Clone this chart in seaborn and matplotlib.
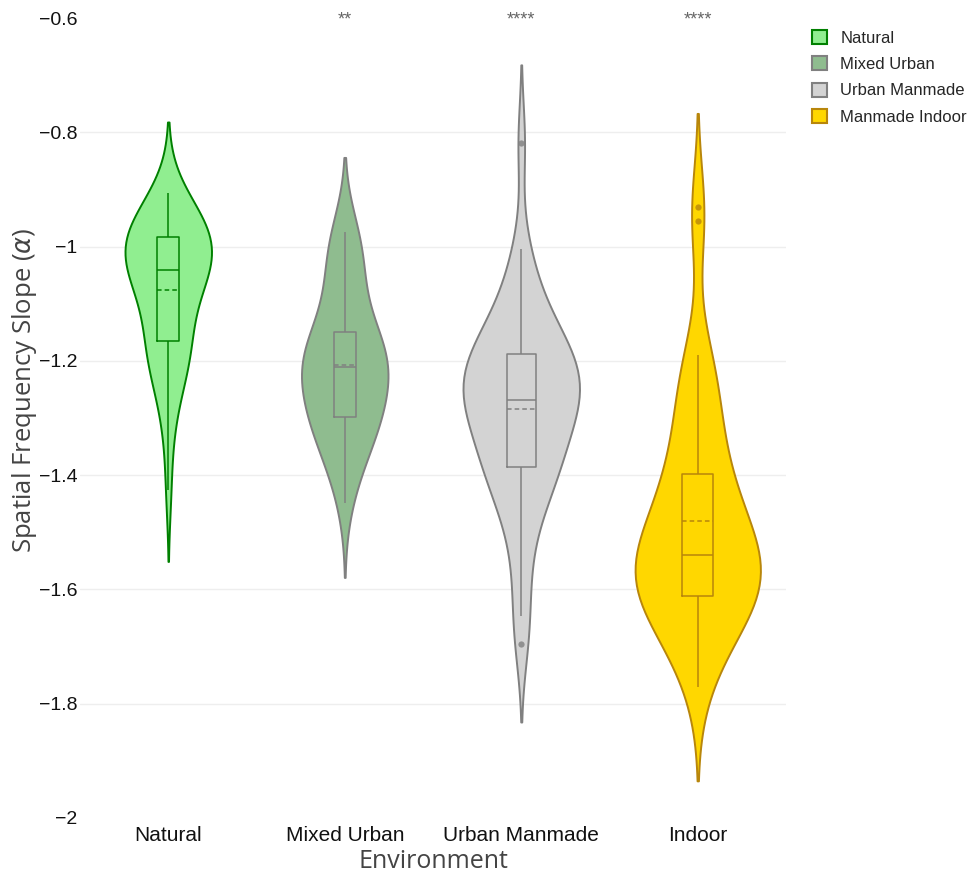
import numpy as np
import pandas as pd
import seaborn as sns
import matplotlib.pyplot as plt
from matplotlib.patches import Patch

# categories / labels
categories = ["Natural", "Mixed Urban", "Urban Manmade", "Indoor"]
legend_names = ["Natural", "Mixed Urban", "Urban Manmade", "Manmade Indoor"]
stars = ["", "**", "****", "****"]

natural = [-1.426, -1.33, -1.28, -1.25, -1.225, -1.21, -1.198, -1.188, -1.178, -1.17, -1.166,
           -1.15, -1.13, -1.11, -1.095, -1.08, -1.07, -1.06, -1.052, -1.046, -1.041,
           -1.036, -1.031, -1.026, -1.021, -1.015, -1.008, -1.002, -0.996, -0.99, -0.983,
           -0.979, -0.975, -0.971, -0.967, -0.962, -0.955, -0.946, -0.935, -0.922, -0.907]
mixed_urban = [-1.449, -1.41, -1.385, -1.365, -1.35, -1.337, -1.326, -1.317, -1.309, -1.303, -1.298,
               -1.29, -1.28, -1.27, -1.26, -1.25, -1.24, -1.23, -1.22, -1.215, -1.21,
               -1.205, -1.20, -1.195, -1.19, -1.185, -1.178, -1.17, -1.163, -1.156, -1.15,
               -1.12, -1.10, -1.08, -1.06, -1.04, -1.02, -1.005, -0.99, -0.982, -0.974]
urban_manmade = [-1.696, -1.647, -1.58, -1.52, -1.48, -1.45, -1.43, -1.41, -1.40, -1.39, -1.386,
                 -1.37, -1.35, -1.34, -1.33, -1.315, -1.30, -1.29, -1.28, -1.273, -1.268,
                 -1.262, -1.255, -1.248, -1.24, -1.232, -1.224, -1.215, -1.205, -1.195, -1.188,
                 -1.18, -1.17, -1.16, -1.15, -1.13, -1.11, -1.08, -1.05, -1.004, -0.818]
indoor = [-1.771, -1.735, -1.70, -1.68, -1.665, -1.65, -1.64, -1.63, -1.622, -1.616, -1.611,
          -1.60, -1.59, -1.58, -1.572, -1.565, -1.558, -1.552, -1.547, -1.543, -1.539,
          -1.525, -1.51, -1.50, -1.485, -1.47, -1.455, -1.44, -1.425, -1.41, -1.398,
          -1.37, -1.345, -1.32, -1.29, -1.26, -1.235, -1.21, -1.19, -0.955, -0.931]

fill_colors = ["#90EE90", "#8FBC8F", "#D3D3D3", "#FFD700"]
line_colors = ["#008000", "#808080", "#808080", "#B8860B"]
violin_widths = [0.49, 0.49, 0.66, 0.71]
bandwidths = [0.0625, 0.065, 0.068, 0.082]

df = pd.DataFrame({
    "Environment": np.repeat(categories, [len(natural), len(mixed_urban), len(urban_manmade), len(indoor)]),
    "slope": natural + mixed_urban + urban_manmade + indoor,
})

sns.set_style("white")
plt.rcParams["font.family"] = ["Liberation Sans", "DejaVu Sans"]

fig = plt.figure(figsize=(9.75, 8.75), dpi=100)
ax = fig.add_axes([80 / 975, 1 - 818 / 875, 706 / 975, 800 / 875])

for i, cat in enumerate(categories):
    sub = df[df["Environment"] == cat]
    bw = bandwidths[i] / sub["slope"].std()
    sns.violinplot(data=sub, x="Environment", y="slope", order=categories,
                   color=fill_colors[i], linecolor=line_colors[i], linewidth=1.4,
                   saturation=1, inner=None, density_norm="width",
                   width=violin_widths[i], bw_method=bw, cut=2, ax=ax)
    sns.boxplot(data=sub, x="Environment", y="slope", order=categories,
                color=line_colors[i], fill=False, width=violin_widths[i] * 0.25,
                linewidth=1.1, showcaps=False, whis=1.5,
                showmeans=True, meanline=True,
                meanprops=dict(color=line_colors[i], linestyle=(0, (3, 2)), linewidth=1.1),
                flierprops=dict(marker="o", markersize=4.5, markerfacecolor=line_colors[i],
                                markeredgecolor="none", alpha=0.8),
                ax=ax)

for i, s in enumerate(stars):
    ax.text(i, -0.603, s, ha="center", va="center", fontsize=13, color="#666666", clip_on=False)

ax.set_xlim(-0.5, 3.5)
ax.set_ylim(-2, -0.6)
yt = np.arange(-2.0, -0.59, 0.2)
ax.set_yticks(yt)
ax.set_yticklabels([("%g" % round(v, 1)).replace("-", "\u2212") for v in yt])
ax.tick_params(axis="y", length=0, pad=2, labelsize=14, labelcolor="#111111")
ax.tick_params(axis="x", length=0, pad=6, labelsize=15, labelcolor="#111111")
for sp in ax.spines.values():
    sp.set_visible(False)
ax.yaxis.grid(True, color="#eeeeee", linewidth=1)
ax.xaxis.grid(False)
ax.set_axisbelow(True)
gl = ax.get_ygridlines()
gl[0].set_visible(False)
gl[-1].set_visible(False)

ax.set_xlabel("Environment", fontsize=18, color="#444444", family="Open Sans", labelpad=3)
ax.set_ylabel(r"Spatial Frequency Slope ($\alpha$)", fontsize=18.5, color="#444444",
              family="Open Sans")
ax.yaxis.set_label_coords(-0.058, 0.535)

handles = [Patch(facecolor=f, edgecolor=l, linewidth=1.5) for f, l in zip(fill_colors, line_colors)]
fig.legend(handles, legend_names, loc="upper left", bbox_to_anchor=(797 / 975, 1 - 15 / 875),
           frameon=False, fontsize=12, handlelength=0.9, handleheight=0.9,
           handletextpad=0.8, labelspacing=0.64)

plt.savefig("out.png", dpi=100)
